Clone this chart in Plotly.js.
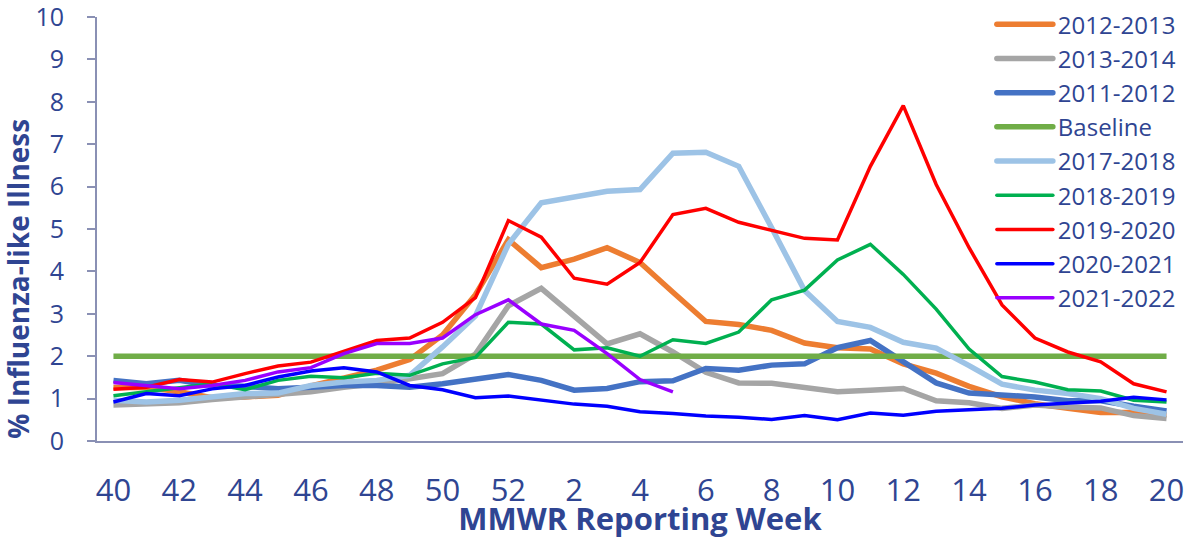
<!DOCTYPE html>
<html>
<head>
<meta charset="utf-8">
<script src="https://cdn.plot.ly/plotly-3.0.1.min.js"></script>
<style>html,body{margin:0;padding:0;background:#fff;}</style>
</head>
<body>
<div id="chart" style="width:1185px;height:539px;"></div>
<script>
// MMWR weeks (season runs from week 40 to week 20)
const weeks = ['40','41','42','43','44','45','46','47','48','49','50','51','52',
  '1','2','3','4','5','6','7','8','9','10','11','12','13','14','15','16','17','18','19','20'];
const tickWeeks = ['40','42','44','46','48','50','52','2','4','6','8','10','12','14','16','18','20'];
const yTicks = [0,1,2,3,4,5,6,7,8,9,10];

const s2012_2013 = [1.26,1.27,1.16,1.02,1.04,1.08,1.30,1.50,1.67,1.92,2.50,3.45,4.75,4.09,4.29,4.56,4.21,3.51,2.82,2.75,2.61,2.31,2.20,2.17,1.82,1.60,1.29,1.04,0.88,0.77,0.67,0.67,0.62];
const s2013_2014 = [0.85,0.88,0.90,0.98,1.04,1.08,1.16,1.27,1.35,1.47,1.59,2.05,3.19,3.60,2.96,2.29,2.53,2.10,1.62,1.37,1.36,1.26,1.16,1.20,1.24,0.95,0.90,0.77,0.85,0.80,0.78,0.60,0.53];
const s2011_2012 = [1.43,1.35,1.43,1.31,1.29,1.23,1.27,1.31,1.31,1.27,1.35,1.47,1.57,1.43,1.20,1.24,1.40,1.42,1.71,1.67,1.79,1.82,2.20,2.37,1.86,1.37,1.13,1.08,1.04,0.95,0.95,0.82,0.71];
const baseline   = [2,2,2,2,2,2,2,2,2,2,2,2,2,2,2,2,2,2,2,2,2,2,2,2,2,2,2,2,2,2,2,2,2];
const s2017_2018 = [0.96,0.92,0.96,1.04,1.12,1.13,1.31,1.39,1.43,1.55,2.22,2.95,4.64,5.62,5.77,5.89,5.93,6.79,6.81,6.48,5.03,3.55,2.82,2.68,2.33,2.19,1.78,1.34,1.20,1.12,1.00,0.77,0.63];
const s2018_2019 = [1.07,1.16,1.27,1.35,1.21,1.43,1.53,1.49,1.60,1.55,1.82,1.97,2.80,2.76,2.15,2.20,2.00,2.39,2.30,2.57,3.33,3.56,4.27,4.64,3.93,3.11,2.17,1.52,1.39,1.21,1.18,0.96,0.92];
const s2019_2020 = [1.22,1.27,1.45,1.39,1.59,1.77,1.86,2.11,2.37,2.43,2.80,3.38,5.20,4.81,3.84,3.70,4.21,5.34,5.49,5.16,4.97,4.78,4.74,6.48,7.91,6.05,4.56,3.21,2.43,2.10,1.87,1.35,1.16];
const s2020_2021 = [0.92,1.12,1.07,1.23,1.31,1.51,1.65,1.73,1.63,1.31,1.21,1.02,1.06,0.97,0.87,0.82,0.69,0.65,0.59,0.56,0.51,0.60,0.50,0.66,0.61,0.70,0.73,0.77,0.85,0.90,0.94,1.03,0.97];
const s2021_2022 = [1.38,1.31,1.23,1.31,1.43,1.63,1.73,2.06,2.30,2.30,2.43,2.98,3.33,2.76,2.61,2.06,1.45,1.16];

const seriesNames = ['2012-2013','2013-2014','2011-2012','Baseline','2017-2018','2018-2019','2019-2020','2020-2021','2021-2022'];
const seriesValues = [s2012_2013,s2013_2014,s2011_2012,baseline,s2017_2018,s2018_2019,s2019_2020,s2020_2021,s2021_2022];
const seriesColors = ['#ED7D31','#A5A5A5','#4472C4','#70AD47','#9DC3E6','#00B050','#FF0000','#0000FF','#9900FF'];
const seriesWidths = [5.5,5.5,5.5,5.5,5.5,3.5,3.5,3.5,3.5];

const textColor = '#2F4592';
const axisColor = '#8A90B4';

const traces = seriesNames.map((name, k) => ({
  type: 'scatter',
  mode: 'lines',
  name: name,
  x: weeks.slice(0, seriesValues[k].length),
  y: seriesValues[k],
  line: {color: seriesColors[k], width: seriesWidths[k]},
  hoverinfo: 'skip'
}));

const layout = {
  width: 1185,
  height: 539,
  margin: {l: 97, r: 2, t: 15, b: 98},
  paper_bgcolor: '#ffffff',
  plot_bgcolor: '#ffffff',
  font: {family: '"Open Sans", "Noto Sans", sans-serif', color: textColor},
  showlegend: true,
  legend: {
    x: 0.824, xanchor: 'left',
    y: 1.035, yanchor: 'top',
    maxheight: 1,
    bgcolor: 'rgba(0,0,0,0)',
    borderwidth: 0,
    itemwidth: 56,
    font: {size: 24, color: textColor},
    traceorder: 'normal'
  },
  xaxis: {
    type: 'category',
    categoryorder: 'array',
    categoryarray: weeks,
    range: [-0.5, 32.5],
    tickmode: 'array',
    tickvals: tickWeeks,
    ticktext: tickWeeks,
    ticks: '',
    showgrid: false,
    zeroline: false,
    showline: true,
    linecolor: axisColor,
    linewidth: 2,
    tickfont: {size: 31, color: textColor},
    ticklabelstandoff: 21,
    title: {
      text: 'MMWR Reporting Week',
      font: {size: 31, color: textColor, weight: 'bold'},
      standoff: 5
    }
  },
  yaxis: {
    range: [0, 10.002],
    tickmode: 'array',
    tickvals: yTicks,
    ticktext: yTicks.map(String),
    ticks: 'outside',
    ticklen: 8,
    tickwidth: 2,
    tickcolor: axisColor,
    showgrid: false,
    zeroline: false,
    showline: true,
    linecolor: axisColor,
    linewidth: 2,
    tickfont: {size: 25, color: textColor},
    ticklabelstandoff: 18,
    ticklabeloverflow: 'allow'
  },
  annotations: [{
    text: '% Influenza-like Illness',
    xref: 'paper', yref: 'paper',
    x: -0.0728, y: 0.3826,
    xanchor: 'center', yanchor: 'middle',
    textangle: -90,
    showarrow: false,
    font: {size: 28, color: textColor, weight: 'bold'}
  }]
};

Plotly.newPlot('chart', traces, layout, {displayModeBar: false, staticPlot: true}).then(function () {
  document.querySelectorAll('.legendlines path').forEach(function (p) {
    p.setAttribute('d', 'M5,0h56');
    p.style.strokeLinecap = 'round';
  });
});
</script>
</body>
</html>
